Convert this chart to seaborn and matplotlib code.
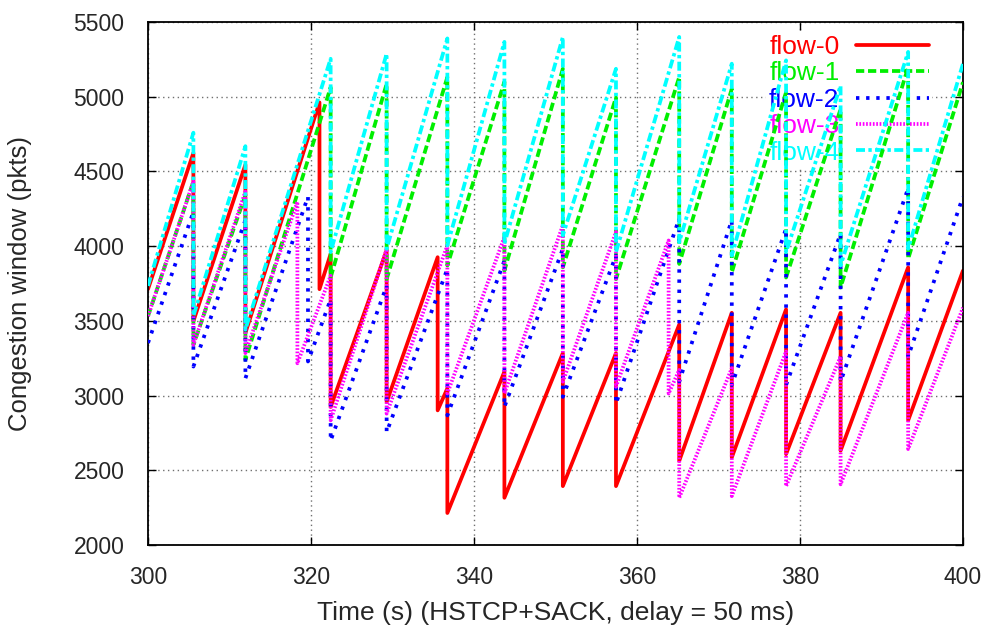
import matplotlib
matplotlib.use("Agg")
import matplotlib.pyplot as plt
import numpy as np
import pandas as pd
import seaborn as sns

# ---------------- data ----------------
flow_names = ["flow-0", "flow-1", "flow-2", "flow-3", "flow-4"]

flow0_start, flow0_end = 3712, 3836
flow0_drop_t = [305.57, 311.95, 321.04, 322.41, 329.28, 335.54, 336.73, 343.73, 350.9, 357.42, 365.18, 371.63, 378.29, 384.98, 393.27]
flow0_peak = [4624, 4545, 4962, 3948, 3971, 3926, 3048, 3160, 3284, 3284, 3475, 3554, 3577, 3554, 3858]
flow0_trough = [3498, 3419, 3712, 2924, 2957, 2901, 2214, 2316, 2394, 2394, 2563, 2586, 2608, 2631, 2834]

flow1_start, flow1_end = 3532, 5097
flow1_drop_t = [305.57, 311.95, 322.41, 329.28, 336.73, 343.73, 350.9, 357.42, 365.18, 371.63, 378.29, 384.98, 393.27]
flow1_peak = [4432, 4342, 5063, 5086, 5131, 5100, 5187, 4995, 5131, 5052, 5030, 4917, 5198]
flow1_trough = [3340, 3239, 3791, 3779, 3870, 3836, 3858, 3779, 3881, 3824, 3790, 3723, 3915]

flow2_start, flow2_end = 3352, 4331
flow2_drop_t = [305.57, 311.95, 319.63, 322.41, 329.28, 336.73, 343.73, 350.9, 357.42, 365.18, 371.63, 378.29, 384.98, 393.27]
flow2_peak = [4230, 4174, 4331, 3644, 3734, 3847, 3903, 3982, 3937, 4185, 4174, 4117, 4083, 4387]
flow2_trough = [3194, 3115, 3228, 2698, 2755, 2867, 2924, 2991, 2946, 3093, 3070, 3070, 3093, 3261]

flow3_start, flow3_end = 3532, 3588
flow3_drop_t = [305.57, 311.95, 318.33, 322.41, 329.28, 336.73, 343.73, 350.9, 357.42, 363.88, 365.18, 371.63, 378.29, 384.98, 393.27]
flow3_peak = [4432, 4365, 4297, 3802, 3982, 4005, 4061, 4140, 4095, 4038, 3171, 3183, 3295, 3261, 3554]
flow3_trough = [3340, 3284, 3216, 2834, 2879, 3014, 3014, 3093, 3059, 3014, 2316, 2327, 2394, 2406, 2642]

flow4_start, flow4_end = 3734, 5221
flow4_drop_t = [305.57, 311.95, 322.41, 329.28, 336.73, 343.73, 350.9, 357.42, 365.18, 371.63, 378.29, 384.98, 393.27]
flow4_peak = [4759, 4669, 5254, 5288, 5390, 5367, 5400, 5187, 5400, 5221, 5243, 5074, 5300]
flow4_trough = [3532, 3442, 3960, 3982, 4005, 4016, 4072, 3960, 4027, 3937, 3960, 3870, 3982]

t_start, t_end = 300, 400
x_ticks = [300, 320, 340, 360, 380, 400]
y_ticks = [2000, 2500, 3000, 3500, 4000, 4500, 5000, 5500]

# ---------------- build long table ----------------
flows = [
    (flow0_start, flow0_end, flow0_drop_t, flow0_peak, flow0_trough),
    (flow1_start, flow1_end, flow1_drop_t, flow1_peak, flow1_trough),
    (flow2_start, flow2_end, flow2_drop_t, flow2_peak, flow2_trough),
    (flow3_start, flow3_end, flow3_drop_t, flow3_peak, flow3_trough),
    (flow4_start, flow4_end, flow4_drop_t, flow4_peak, flow4_trough),
]
rows = []
for name, (s, e, dt, pk, tr) in zip(flow_names, flows):
    order = 0
    rows.append((name, order, t_start, s)); order += 1
    for t, p, q in zip(dt, pk, tr):
        rows.append((name, order, t, p)); order += 1
        rows.append((name, order, t, q)); order += 1
    rows.append((name, order, t_end, e))
df = pd.DataFrame(rows, columns=["flow", "order", "time", "cwnd"])

# ---------------- style ----------------
sns.set_style("ticks")
plt.rcParams["font.family"] = ["Liberation Sans", "DejaVu Sans"]

colors = ["#ff0000", "#00ee00", "#0000ff", "#ff00ff", "#00ffff"]
styles = ["-", (0, (2.2, 1.0)), (0, (0.9, 1.8)), (0, (0.45, 0.45)), (0, (2.4, 0.9, 0.9, 0.9))]
lw = 2.7

fig = plt.figure(figsize=(9.92, 6.30), dpi=100)
ax = fig.add_axes([148 / 992, 1 - 545 / 630, (963 - 148) / 992, (545 - 22) / 630])

for i, name in enumerate(flow_names):
    sub = df[df["flow"] == name]
    sns.lineplot(data=sub, x="time", y="cwnd", estimator=None, sort=False,
                 color=colors[i], linestyle=styles[i], linewidth=lw,
                 label=name, ax=ax, zorder=2 + i)

ax.set_xlim(t_start, t_end)
ax.set_ylim(2000, 5500)
ax.set_xticks(x_ticks)
ax.set_yticks(y_ticks)
ax.set_axisbelow(True)
ax.grid(True, color="#707070", linestyle=(0, (1, 2.5)), linewidth=1.0)

for sp in ax.spines.values():
    sp.set_visible(True)
    sp.set_linewidth(1.3)
    sp.set_color("black")

ax.tick_params(axis="both", which="major", direction="in", length=6, width=1,
               top=True, right=True, labelsize=16.5, color="black")
ax.tick_params(axis="x", pad=15)
ax.tick_params(axis="y", pad=17)

ax.set_xlabel("Time (s) (HSTCP+SACK, delay = 50 ms)", fontsize=19)
ax.set_ylabel("Congestion window (pkts)", fontsize=18.5)
ax.xaxis.set_label_coords(0.5, -0.13)
ax.xaxis.label.set_va("center")
ax.yaxis.set_label_coords(-0.157, 0.5)
ax.yaxis.label.set_va("center")

leg = ax.legend(loc="upper right", bbox_to_anchor=(0.962, 0.98), markerfirst=False,
                labelcolor=colors, fontsize=19, frameon=True, fancybox=False,
                handlelength=2.77, handletextpad=0.64, labelspacing=0.09,
                borderpad=0.1, borderaxespad=0.0)
leg.get_frame().set_facecolor("white")
leg.get_frame().set_edgecolor("none")
leg.get_frame().set_alpha(1.0)
leg.set_zorder(1.5)

fig.savefig("out.png", dpi=100)
